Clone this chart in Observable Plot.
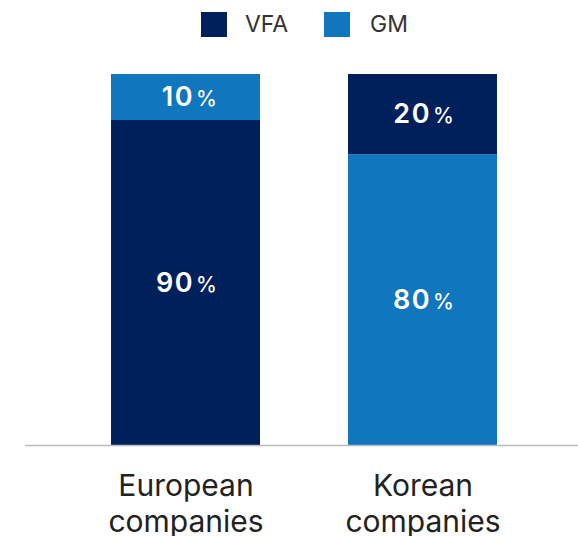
<!DOCTYPE html>
<html>
<head>
<meta charset="utf-8">
<script src="https://cdn.jsdelivr.net/npm/d3@7"></script>
<script src="https://cdn.jsdelivr.net/npm/@observablehq/plot@0.6"></script>
<style>
  html, body { margin: 0; padding: 0; background: #fff; }
  body { width: 578px; font-family: Inter, "Noto Sans", sans-serif; }
  #legend { position: relative; height: 50px; }
  .sw { position: absolute; top: 12px; width: 26px; height: 25px; }
  .lt { position: absolute; top: 10px; font-size: 23px; line-height: 28px; color: #333; }
  svg { display: block; }
  .num text { letter-spacing: 1.5px; }
</style>
</head>
<body>
<div id="legend"></div>
<div id="chart"></div>
<script>
// Data
const categories = ["European companies", "Korean companies"];
const tickLabels = ["European\ncompanies", "Korean\ncompanies"];
const seriesNames = ["VFA", "GM"];
const seriesColors = ["#00205b", "#1076bd"];
// stacked in input order (bottom first) for each category
const stackCategory = ["European companies", "European companies", "Korean companies", "Korean companies"];
const stackSeries   = ["VFA", "GM", "GM", "VFA"];
const stackValues   = [87.6, 12.4, 78.4, 21.6];
const stackLabels   = ["90", "10", "80", "20"];

const data = stackCategory.map((c, i) => ({
  category: c, series: stackSeries[i], value: stackValues[i], label: stackLabels[i]
}));

// Legend
const legend = document.getElementById("legend");
const legendPos = [{sw: 201, tx: 245}, {sw: 324, tx: 370}];
seriesNames.forEach((s, i) => {
  const sw = document.createElement("div");
  sw.className = "sw";
  sw.style.left = legendPos[i].sw + "px";
  sw.style.background = seriesColors[i];
  const t = document.createElement("div");
  t.className = "lt";
  t.style.left = legendPos[i].tx + "px";
  t.textContent = s;
  legend.append(sw, t);
});

const stackOpts = {x: "category", y: "value", order: null};

const chart = Plot.plot({
  width: 578,
  height: 486,
  marginLeft: 25,
  marginRight: 0,
  marginTop: 24,
  marginBottom: 91,
  style: {fontFamily: "Inter, 'Noto Sans', sans-serif", background: "#fff"},
  x: {domain: categories, range: [23, 585], paddingInner: 0.37, paddingOuter: 0.366, axis: null},
  y: {domain: [0, 100], axis: null},
  color: {domain: seriesNames, range: seriesColors},
  marks: [
    Plot.barY(data, Plot.stackY({...stackOpts, fill: "series", z: "series"})),
    Plot.text(data, Plot.stackY({
      ...stackOpts, z: "series", text: "label", fill: "white", className: "num",
      fontSize: 27, fontWeight: 600, textAnchor: "end", dx: 8, lineAnchor: "middle"
    })),
    Plot.text(data, Plot.stackY({
      ...stackOpts, z: "series", text: () => "%", fill: "white",
      fontSize: 21, fontWeight: 500, textAnchor: "start", dx: 10, dy: 2, lineAnchor: "middle"
    })),
    Plot.ruleY([0], {stroke: "#bbbbbb", strokeWidth: 1.5}),
    Plot.axisX({
      tickSize: 0, tickPadding: 26, fontSize: 30, lineHeight: 1.17, fill: "#222",
      tickFormat: d => tickLabels[categories.indexOf(d)], label: null
    })
  ]
});
document.getElementById("chart").append(chart);
</script>
</body>
</html>
